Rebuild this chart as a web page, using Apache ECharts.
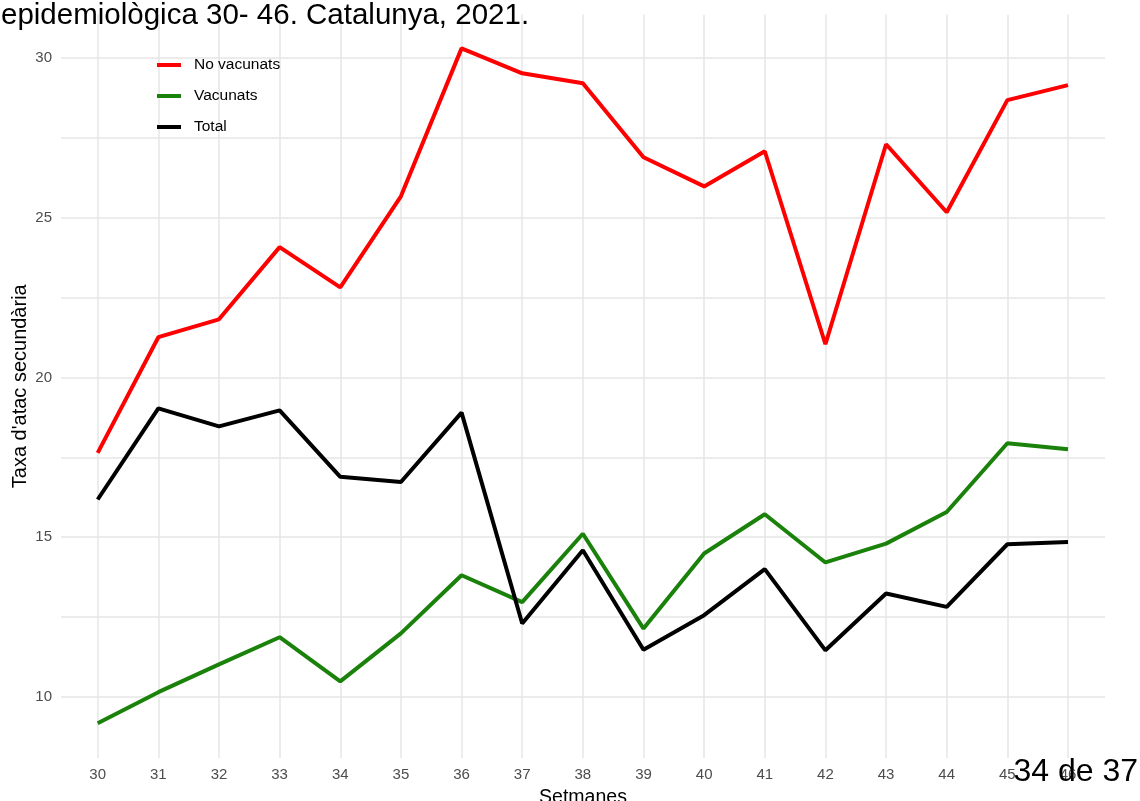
<!DOCTYPE html>
<html>
<head>
<meta charset="utf-8">
<script src="https://cdn.jsdelivr.net/npm/echarts@6/dist/echarts.min.js"></script>
<style>
html,body{margin:0;padding:0;background:#fff;}
#chart{width:1140px;height:801px;}
</style>
</head>
<body>
<div id="chart"></div>
<script>
// setmanes epidemiologiques
var weeks = [30,31,32,33,34,35,36,37,38,39,40,41,42,43,44,45,46];
var noVacunats = [17.64,21.26,21.82,24.08,22.82,25.67,30.30,29.52,29.21,26.89,25.98,27.08,21.04,27.30,25.17,28.68,29.15];
var vacunats = [9.18,10.15,11.02,11.87,10.49,11.99,13.81,12.97,15.11,12.14,14.49,15.72,14.21,14.80,15.79,17.94,17.75];
var total = [16.18,19.03,18.47,18.97,16.89,16.73,18.90,12.30,14.59,11.48,12.56,14.00,11.46,13.24,12.82,14.78,14.85];
var seriesNames = ['No vacunats','Vacunats','Total'];
var colors = ['#ff0000','#1a820a','#000000'];

var chart = echarts.init(document.getElementById('chart'));

function pairs(vals){
    return weeks.map(function(w,i){ return [w, vals[i]]; });
}

var font = '"Liberation Sans", Arial, sans-serif';
var gridLine = {show:true, showMinLine:false, showMaxLine:false, lineStyle:{color:'#e6e6e6', width:1.5}};

chart.setOption({
    animation:false,
    color:colors,
    textStyle:{fontFamily:font},
    grid:{left:61, right:35, top:14.5, bottom:43, containLabel:false, outerBoundsMode:'none'},
    legend:{
        orient:'vertical',
        left:157,
        top:57,
        padding:0,
        itemWidth:24,
        itemHeight:4,
        itemGap:15,
        icon:'rect',
        data:seriesNames,
        textStyle:{fontSize:15.5, color:'#000', fontFamily:font, padding:[0,0,0,8]}
    },
    xAxis:{
        type:'value',
        min:29.395,
        max:46.61,
        minInterval:1,
        maxInterval:1,
        splitNumber:17,
        axisLine:{show:false},
        axisTick:{show:false},
        splitLine:gridLine,
        axisLabel:{
            color:'#4d4d4d', fontSize:15, margin:9, fontFamily:font,
            showMinLabel:false, showMaxLabel:false,
            formatter:function(v){ return Math.abs(v-Math.round(v))<1e-6 ? String(Math.round(v)) : ''; }
        },
        name:'Setmanes',
        nameLocation:'middle',
        nameGap:30,
        nameMoveOverlap:false,
        nameTextStyle:{color:'#000', fontSize:19.5, fontFamily:font}
    },
    yAxis:{
        type:'value',
        min:8.09,
        max:31.36,
        minInterval:2.5,
        maxInterval:2.5,
        axisLine:{show:false},
        axisTick:{show:false},
        splitLine:gridLine,
        axisLabel:{
            color:'#4d4d4d', fontSize:15, margin:9, fontFamily:font,
            showMinLabel:false, showMaxLabel:false,
            formatter:function(v){ return Math.abs(v/5-Math.round(v/5))<1e-6 ? String(Math.round(v)) : ''; }
        },
        name:"Taxa d'atac secundària",
        nameLocation:'middle',
        nameGap:31,
        nameMoveOverlap:false,
        nameTextStyle:{color:'#000', fontSize:20, fontFamily:font}
    },
    graphic:[
        {type:'text', left:1, top:1, z:100,
         style:{text:'epidemiològica 30- 46. Catalunya, 2021.', fill:'#000', font:'29.5px "Liberation Sans", Arial, sans-serif'}},
        {type:'text', right:2, top:756, z:100,
         style:{text:'34 de 37', fill:'#000', font:'32px "Liberation Sans", Arial, sans-serif'}}
    ],
    series:[
        {name:seriesNames[0], type:'line', data:pairs(noVacunats), showSymbol:false, lineStyle:{width:4}},
        {name:seriesNames[1], type:'line', data:pairs(vacunats), showSymbol:false, lineStyle:{width:4}},
        {name:seriesNames[2], type:'line', data:pairs(total), showSymbol:false, lineStyle:{width:4}}
    ]
});
</script>
</body>
</html>
